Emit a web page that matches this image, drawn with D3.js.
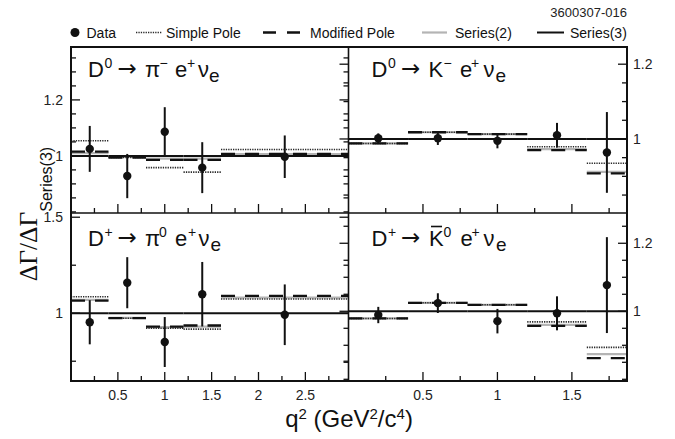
<!DOCTYPE html>
<html>
<head>
<meta charset="utf-8">
<script src="https://cdn.jsdelivr.net/npm/d3@7"></script>
<style>
  html, body { margin: 0; padding: 0; background: #fff; }
  svg { display: block; font-family: "Liberation Sans", Arial, Helvetica, sans-serif; }
</style>
</head>
<body>
<svg id="chart" width="675" height="439"></svg>
<script>
// q^2 bin edges (GeV^2/c^4) for the pion and kaon modes
const binEdgesPi = [0, 0.4, 0.8, 1.2, 1.6, 2.96];
const binEdgesK  = [0, 0.4, 0.8, 1.2, 1.6, 1.87];
// q^2 at which each measured point sits
const pointQ2Pi = [0.2, 0.6, 1.0, 1.4, 2.28];
const pointQ2K  = [0.2, 0.6, 1.0, 1.4, 1.735];

// D0 -> pi- e+ nu_e
const dataPiMinus     = [1.025, 0.928, 1.086, 0.958, 0.997];
const errPiMinus      = [0.082, 0.079, 0.088, 0.091, 0.076];
const simplePiMinus   = [1.054, 0.994, 0.958, 0.942, 1.023];
const modifiedPiMinus = [1.015, 0.994, 0.986, 0.986, 1.007];
const series2PiMinus  = [1.010, 0.996, 0.990, 0.990, 1.006];

// D0 -> K- e+ nu_e
const dataKMinus     = [1.002, 1.002, 0.995, 1.010, 0.964];
const errKMinus      = [0.013, 0.018, 0.020, 0.033, 0.108];
const simpleKMinus   = [0.988, 1.018, 1.013, 0.979, 0.935];
const modifiedKMinus = [0.988, 1.018, 1.013, 0.970, 0.908];
const series2KMinus  = [0.988, 1.018, 1.013, 0.973, 0.912];

// D+ -> pi0 e+ nu_e
const dataPiZero     = [0.953, 1.159, 0.850, 1.099, 0.992];
const errPiZero      = [0.115, 0.133, 0.130, 0.168, 0.158];
const simplePiZero   = [1.086, 0.974, 0.922, 0.917, 1.074];
const modifiedPiZero = [1.066, 0.974, 0.930, 0.936, 1.090];
const series2PiZero  = [1.070, 0.976, 0.928, 0.930, 1.082];

// D+ -> anti-K0 e+ nu_e
const dataKZero     = [0.989, 1.024, 0.971, 0.994, 1.077];
const errKZero      = [0.024, 0.029, 0.036, 0.050, 0.141];
const simpleKZero   = [0.979, 1.025, 1.019, 0.969, 0.894];
const modifiedKZero = [0.979, 1.025, 1.019, 0.957, 0.862];
const series2KZero  = [0.979, 1.025, 1.019, 0.960, 0.874];

// reference prediction: ratio to itself
const series3Ratio = [1, 1, 1, 1, 1];

// axis ranges and tick labels
const xRangePi = [0, 2.96];
const xRangeK  = [0, 1.87];
const xTickLabelsPi = [0.5, 1, 1.5, 2, 2.5];
const xTickLabelsK  = [0.5, 1, 1.5];
const yRangePiMinus = [0.796, 1.389];
const yRangeKMinus  = [0.802, 1.246];
const yRangePiZero  = [0.647, 1.522];
const yRangeKZero   = [0.795, 1.289];
const yTickLabelsPiMinus = [1, 1.2];
const yTickLabelsKMinus  = [1, 1.2];
const yTickLabelsPiZero  = [1, 1.5];
const yTickLabelsKZero   = [1, 1.2];

const legendLabels = ["Data", "Simple Pole", "Modified Pole", "Series(2)", "Series(3)"];
const figureId = "3600307-016";

// ---------- layout ----------
const frame = { x0: 71, xm: 348.5, x1: 627, y0: 47, ym: 213, y1: 381 };
const cols = [[frame.x0, frame.xm], [frame.xm, frame.x1]];
const rows = [[frame.y0, frame.ym], [frame.ym, frame.y1]];

const sup = s => ({ t: s, kind: "sup" });
const sub = s => ({ t: s, kind: "sub" });
const txt = s => ({ t: s, kind: "main" });
const arrow = { t: "\u2192", kind: "arrow" };

const panels = [
  { col: 0, row: 0, edges: binEdgesPi, q: pointQ2Pi, xDomain: xRangePi, xLabels: xTickLabelsPi,
    yDomain: yRangePiMinus, yLabels: yTickLabelsPiMinus, yStep: 0.05,
    data: dataPiMinus, err: errPiMinus, simple: simplePiMinus, modified: modifiedPiMinus, s2: series2PiMinus,
    title: [[txt("D"), 0], [sup("0"), 16.5], [arrow, 29.5], [txt("\u03C0"), 57], [sup("\u2212"), 71.5],
            [txt("e"), 87], [sup("+"), 99], [txt("\u03BD"), 110], [sub("e"), 121]] },
  { col: 1, row: 0, edges: binEdgesK, q: pointQ2K, xDomain: xRangeK, xLabels: xTickLabelsK,
    yDomain: yRangeKMinus, yLabels: yTickLabelsKMinus, yStep: 0.05,
    data: dataKMinus, err: errKMinus, simple: simpleKMinus, modified: modifiedKMinus, s2: series2KMinus,
    title: [[txt("D"), 0], [sup("0"), 16.5], [arrow, 29.5], [txt("K"), 57], [sup("\u2212"), 72],
            [txt("e"), 88.5], [sup("+"), 99.5], [txt("\u03BD"), 112], [sub("e"), 124]] },
  { col: 0, row: 1, edges: binEdgesPi, q: pointQ2Pi, xDomain: xRangePi, xLabels: xTickLabelsPi,
    yDomain: yRangePiZero, yLabels: yTickLabelsPiZero, yStep: 0.25,
    data: dataPiZero, err: errPiZero, simple: simplePiZero, modified: modifiedPiZero, s2: series2PiZero,
    title: [[txt("D"), 0], [sup("+"), 16.5], [arrow, 29.5], [txt("\u03C0"), 57], [sup("0"), 71],
            [txt("e"), 87], [sup("+"), 100], [txt("\u03BD"), 110.5], [sub("e"), 122.5]] },
  { col: 1, row: 1, edges: binEdgesK, q: pointQ2K, xDomain: xRangeK, xLabels: xTickLabelsK,
    yDomain: yRangeKZero, yLabels: yTickLabelsKZero, yStep: 0.05,
    data: dataKZero, err: errKZero, simple: simpleKZero, modified: modifiedKZero, s2: series2KZero,
    title: [[txt("D"), 0], [sup("+"), 16.5], [arrow, 29.5], [{ t: "K", kind: "main", bar: true }, 57.5],
            [sup("0"), 72], [txt("e"), 89], [sup("+"), 100], [txt("\u03BD"), 112], [sub("e"), 124.5]] }
];

const svg = d3.select("#chart");

const STYLE = {
  series2:  { stroke: "#b4b4b4", width: 2.2, dash: null },
  series3:  { stroke: "#111", width: 2, dash: null },
  simple:   { stroke: "#2a2a2a", width: 1.6, dash: "1.3 1.1" },
  modified: { stroke: "#111", width: 2.3, dash: "14 10" }
};

function stepRange(domain, step) {
  const out = [];
  const start = Math.ceil(domain[0] / step - 1e-9);
  const end = Math.floor(domain[1] / step + 1e-9);
  for (let k = start; k <= end; k++) out.push(+(k * step).toFixed(6));
  return out;
}

function drawBins(g, p, xs, ys, values, style) {
  g.append("g").selectAll("line")
    .data(values)
    .join("line")
    .attr("x1", (d, i) => xs(p.edges[i]))
    .attr("x2", (d, i) => xs(p.edges[i + 1]))
    .attr("y1", d => ys(d))
    .attr("y2", d => ys(d))
    .attr("stroke", style.stroke)
    .attr("stroke-width", style.width)
    .attr("stroke-dasharray", style.dash);
}

panels.forEach(p => {
  const xr = cols[p.col], yr = rows[p.row];
  const xs = d3.scaleLinear().domain(p.xDomain).range(xr);
  const ys = d3.scaleLinear().domain(p.yDomain).range([yr[1], yr[0]]);
  const g = svg.append("g");

  // predictions, ratio to Series(3)
  drawBins(g, p, xs, ys, p.s2, STYLE.series2);
  drawBins(g, p, xs, ys, series3Ratio, STYLE.series3);
  drawBins(g, p, xs, ys, p.simple, STYLE.simple);
  drawBins(g, p, xs, ys, p.modified, STYLE.modified);

  // measured points with error bars
  const pts = p.data.map((v, i) => ({ q: p.q[i], v, e: p.err[i] }));
  g.append("g").selectAll("line")
    .data(pts)
    .join("line")
    .attr("x1", d => xs(d.q)).attr("x2", d => xs(d.q))
    .attr("y1", d => ys(Math.min(d.v + d.e, p.yDomain[1])))
    .attr("y2", d => ys(Math.max(d.v - d.e, p.yDomain[0])))
    .attr("stroke", "#111").attr("stroke-width", 2);
  g.append("g").selectAll("circle")
    .data(pts)
    .join("circle")
    .attr("cx", d => xs(d.q)).attr("cy", d => ys(d.v))
    .attr("r", 4.2).attr("fill", "#111");

  // x ticks along the bottom of each panel
  const xt = stepRange(p.xDomain, 0.25).filter(v => v > 0 && v < p.xDomain[1]);
  const xMajor = v => Math.abs(v * 2 - Math.round(v * 2)) < 1e-6;
  g.append("g").selectAll("line")
    .data(xt)
    .join("line")
    .attr("x1", d => xs(d)).attr("x2", d => xs(d))
    .attr("y1", yr[1]).attr("y2", d => yr[1] - (xMajor(d) ? 9 : 5))
    .attr("stroke", "#111").attr("stroke-width", 1.3);
  if (p.row === 1) {
    g.append("g").selectAll("text")
      .data(p.xLabels)
      .join("text")
      .attr("x", d => xs(d)).attr("y", 400)
      .attr("text-anchor", "middle")
      .attr("font-size", 14)
      .attr("fill", "#222")
      .text(d => d3.format("~g")(d));
  }

  // y ticks on both sides of each panel (pointing left at the centre divider)
  const yt = stepRange(p.yDomain, p.yStep).filter(v => ys(v) > yr[0] + 1 && ys(v) < yr[1] - 1);
  const yMajor = v => p.yLabels.some(l => Math.abs(l - v) < 1e-6);
  const len = v => (yMajor(v) ? 9 : 5);
  const leftX = xr[0], rightX = xr[1];
  const leftDir = p.col === 0 ? 1 : -1;   // outer-left axis points inward, divider ticks point left
  g.append("g").selectAll("line")
    .data(yt)
    .join("line")
    .attr("x1", leftX).attr("x2", d => leftX + leftDir * len(d))
    .attr("y1", d => ys(d)).attr("y2", d => ys(d))
    .attr("stroke", "#111").attr("stroke-width", 1.3);
  g.append("g").selectAll("line")
    .data(yt)
    .join("line")
    .attr("x1", rightX).attr("x2", d => rightX - len(d))
    .attr("y1", d => ys(d)).attr("y2", d => ys(d))
    .attr("stroke", "#111").attr("stroke-width", 1.3);

  const labelX = p.col === 0 ? frame.x0 - 8 : frame.x1 + 6;
  g.append("g").selectAll("text")
    .data(p.yLabels)
    .join("text")
    .attr("x", labelX).attr("y", d => ys(d) + 5)
    .attr("text-anchor", p.col === 0 ? "end" : "start")
    .attr("font-size", 14)
    .attr("fill", "#222")
    .text(d => d3.format("~g")(d));

  // decay-mode title
  const tx = xr[0] + (p.col === 0 ? 17 : 23);
  const ty = yr[0] + (p.row === 0 ? 30 : 33);
  const tg = g.append("g").attr("transform", `translate(${tx},${ty})`);
  p.title.forEach(([piece, off]) => {
    const t = tg.append("text")
      .attr("x", off)
      .attr("fill", "#111")
      .text(piece.t);
    if (piece.kind === "sup") t.attr("y", -9).attr("font-size", 14);
    else if (piece.kind === "sub") t.attr("y", 5).attr("font-size", 19);
    else if (piece.kind === "arrow") {
      t.attr("y", -1).attr("font-size", 23)
       .attr("font-family", "'DejaVu Sans', sans-serif");
    }
    else t.attr("y", 0).attr("font-size", 22);
    if (piece.bar) {
      const bb = t.node().getBBox();
      tg.append("line")
        .attr("x1", bb.x + 2).attr("x2", bb.x + bb.width - 2)
        .attr("y1", -19.5).attr("y2", -19.5)
        .attr("stroke", "#111").attr("stroke-width", 1.6);
    }
  });
});

// outer frame and panel dividers
svg.append("rect")
  .attr("x", frame.x0).attr("y", frame.y0)
  .attr("width", frame.x1 - frame.x0).attr("height", frame.y1 - frame.y0)
  .attr("fill", "none").attr("stroke", "#111").attr("stroke-width", 2);
svg.append("line")
  .attr("x1", frame.xm).attr("x2", frame.xm).attr("y1", frame.y0).attr("y2", frame.y1)
  .attr("stroke", "#111").attr("stroke-width", 1.6);
svg.append("line")
  .attr("x1", frame.x0).attr("x2", frame.x1).attr("y1", frame.ym).attr("y2", frame.ym)
  .attr("stroke", "#111").attr("stroke-width", 1.6);

// axis titles
const xTitle = svg.append("text")
  .attr("x", (frame.x0 + frame.x1) / 2).attr("y", 427)
  .attr("text-anchor", "middle").attr("font-size", 24).attr("fill", "#111");
xTitle.append("tspan").text("q");
xTitle.append("tspan").attr("font-size", 15).attr("dy", -8).text("2");
xTitle.append("tspan").attr("dy", 8).text(" (GeV");
xTitle.append("tspan").attr("font-size", 15).attr("dy", -8).text("2");
xTitle.append("tspan").attr("dy", 8).text("/c");
xTitle.append("tspan").attr("font-size", 15).attr("dy", -8).text("4");
xTitle.append("tspan").attr("dy", 8).text(")");

const yTitle = svg.append("text")
  .attr("transform", `translate(37,${(frame.y0 + frame.y1) / 2}) rotate(-90)`)
  .attr("text-anchor", "middle").attr("fill", "#111");
yTitle.append("tspan")
  .attr("font-family", "'Liberation Serif', 'DejaVu Serif', serif")
  .attr("font-size", 25.5).text("\u0394\u0393/\u0394\u0393");
yTitle.append("tspan")
  .attr("font-size", 16).attr("dy", 15).text("Series(3)");

// legend
const legendY = 32.5;
const lg = svg.append("g");
lg.append("circle").attr("cx", 75).attr("cy", legendY).attr("r", 4.5).attr("fill", "#111");
const legendLines = [
  { x1: 136, x2: 162, style: STYLE.simple },
  { x1: 263, x2: 300, style: { stroke: "#111", width: 2.3, dash: "13 11" } },
  { x1: 422, x2: 447, style: STYLE.series2 },
  { x1: 537, x2: 564, style: STYLE.series3 }
];
legendLines.forEach(l => {
  lg.append("line")
    .attr("x1", l.x1).attr("x2", l.x2).attr("y1", legendY).attr("y2", legendY)
    .attr("stroke", l.style.stroke).attr("stroke-width", l.style.width)
    .attr("stroke-dasharray", l.style.dash);
});
const legendTextX = [86.5, 166, 310, 455, 570];
lg.selectAll("text.leg")
  .data(legendLabels)
  .join("text")
  .attr("class", "leg")
  .attr("x", (d, i) => legendTextX[i]).attr("y", legendY + 5)
  .attr("font-size", 14).attr("fill", "#111")
  .text(d => d);

svg.append("text")
  .attr("x", frame.x1).attr("y", 16.5)
  .attr("text-anchor", "end").attr("font-size", 13).attr("fill", "#222")
  .text(figureId);
</script>
</body>
</html>
